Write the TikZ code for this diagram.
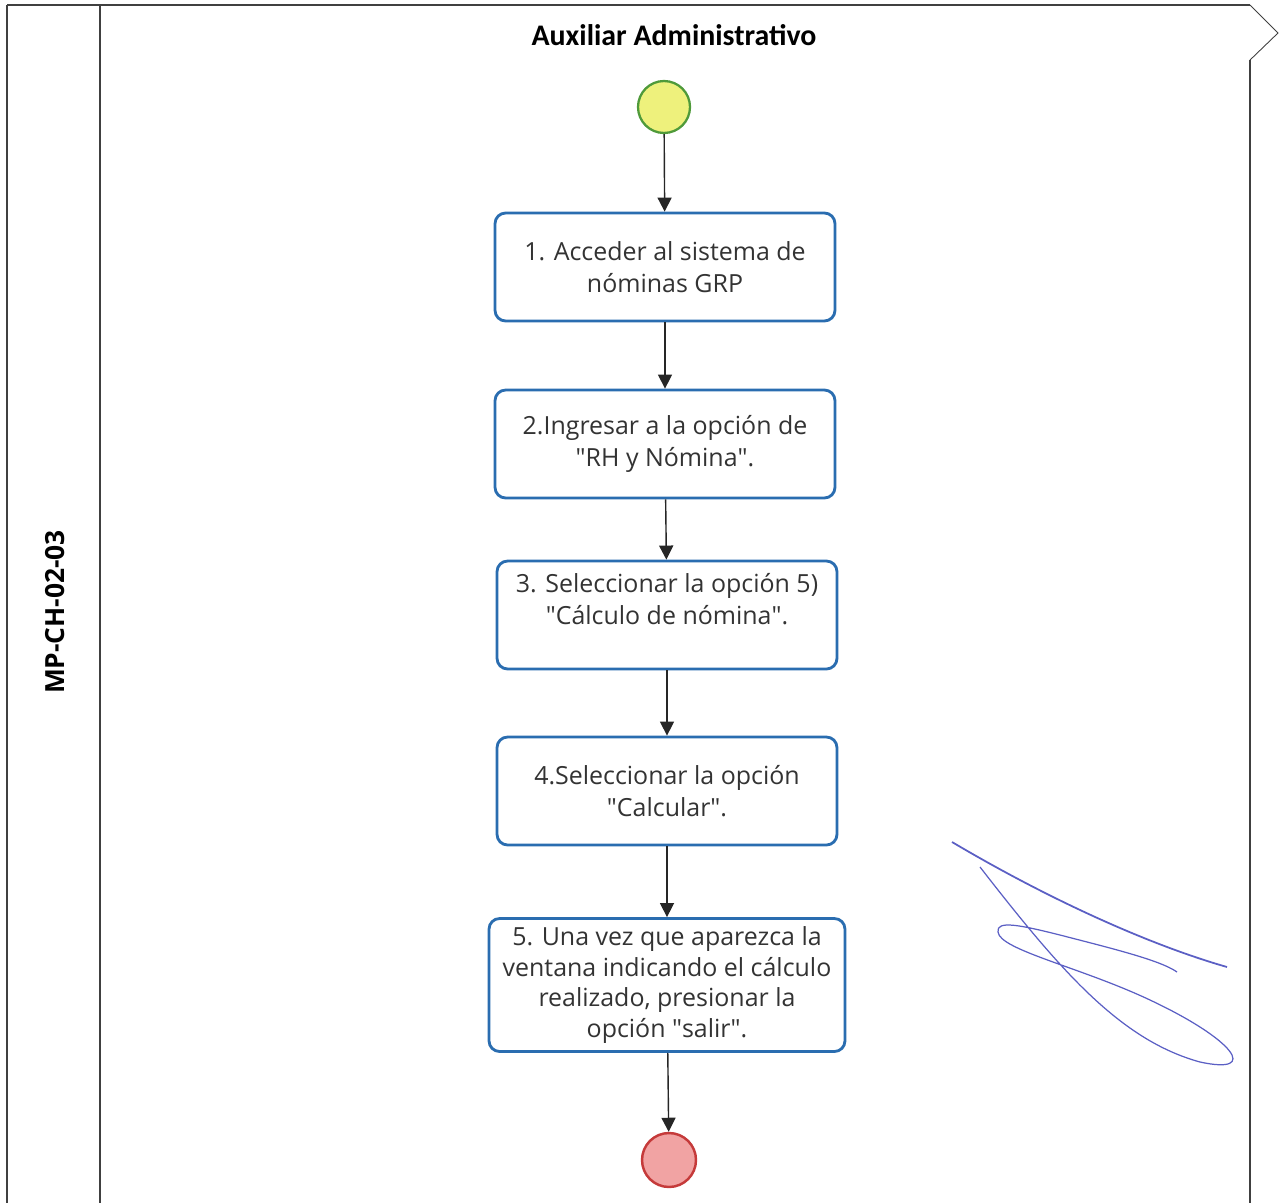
\documentclass[tikz,border=0pt]{standalone}
\usepackage{fontspec}
\setmainfont{Open Sans}
\newfontfamily\titulofont{Carlito}
\usepackage{xcolor}
\usetikzlibrary{arrows.meta,positioning,calc}

\definecolor{azulcaja}{HTML}{2A6DB0}
\definecolor{verdeborde}{HTML}{4F9A3A}
\definecolor{amarillo}{HTML}{EEF17C}
\definecolor{rojoborde}{HTML}{C53A3A}
\definecolor{rojofondo}{HTML}{F1A3A3}
\definecolor{firma}{HTML}{5B5FC4}

\tikzset{
    paso/.style={draw=azulcaja, line width=1.6pt, rounded corners=6pt, fill=white,
        align=center, minimum width=6.8cm, minimum height=2.16cm, inner sep=2pt,
        font=\fontsize{14.2}{18.4}\selectfont, text=black!80},
    inicio/.style={circle, draw=verdeborde, fill=amarillo, line width=1.3pt, minimum size=1.04cm},
    fin/.style={circle, draw=rojoborde, fill=rojofondo, line width=1.4pt, minimum size=1.08cm},
    flecha/.style={draw=black!85, line width=0.8pt, -{Triangle[width=8pt,length=8pt]}},
    marco/.style={draw=black!75, line width=1pt}
}

\begin{document}
\begin{tikzpicture}[x=0.02cm, y=-0.02cm]
    \useasboundingbox (0,0) rectangle (1280,1203);

    % Swimlane frame
    \draw[marco, line width=1.5pt] (7,5) -- (1250,5);
    \draw[marco, line width=0.5pt] (1250,5) -- (1278,33) -- (1250,60);
    \draw[marco] (1250,60) -- (1250,1203);
    \draw[marco] (7,5) -- (7,1203);
    \draw[marco] (100,5) -- (100,1203);

    % Lane titles
    \node[font=\titulofont\bfseries\fontsize{17}{20}\selectfont] (carril) at (674,35) {Auxiliar Administrativo};
    \node[font=\bfseries\fontsize{15}{18}\selectfont, rotate=90] (clave) at (55,612) {MP-CH-02-03};

    % Process steps
    \node[inicio] (ini) at (664,107) {};
    \node[paso] (p1) at (665,267) {1. Acceder al sistema de\\n\'ominas GRP};
    \node[paso] (p2) at (665,444) {2.Ingresar a la opci\'on de\\\textquotedbl RH y N\'omina\textquotedbl.};
    \node[paso] (p3) at (667,615) {3. Seleccionar la opci\'on 5)\\\textquotedbl C\'alculo de n\'omina\textquotedbl.\\[0pt]};
    \node[paso] (p4) at (667,791) {4.Seleccionar la opci\'on\\\textquotedbl Calcular\textquotedbl.};
    \node[paso, minimum width=7.12cm, minimum height=2.66cm, font=\fontsize{14.2}{17.4}\selectfont] (p5) at (667,985) {5. Una vez que aparezca la\\ventana indicando el c\'alculo\\realizado, presionar la\\opci\'on \textquotedbl salir\textquotedbl.};
    \node[fin] (fin) at (669,1160) {};

    % Connectors
    \foreach \a/\b in {ini/p1, p1/p2, p2/p3, p3/p4, p4/p5, p5/fin} {
        \draw[flecha] (\a) -- (\b);
    }

    % Signature
    \draw[firma, line width=1pt] (952,842) .. controls (1050,900) and (1150,945) .. (1227,967);
    \draw[firma, line width=0.7pt] (980,867) .. controls (1060,970) and (1120,1040) .. (1200,1062)
        .. controls (1260,1075) and (1235,1040) .. (1150,1000)
        .. controls (1080,967) and (1000,950) .. (998,932)
        .. controls (996,920) and (1020,925) .. (1060,935)
        .. controls (1110,948) and (1160,960) .. (1177,972);
\end{tikzpicture}
\end{document}
